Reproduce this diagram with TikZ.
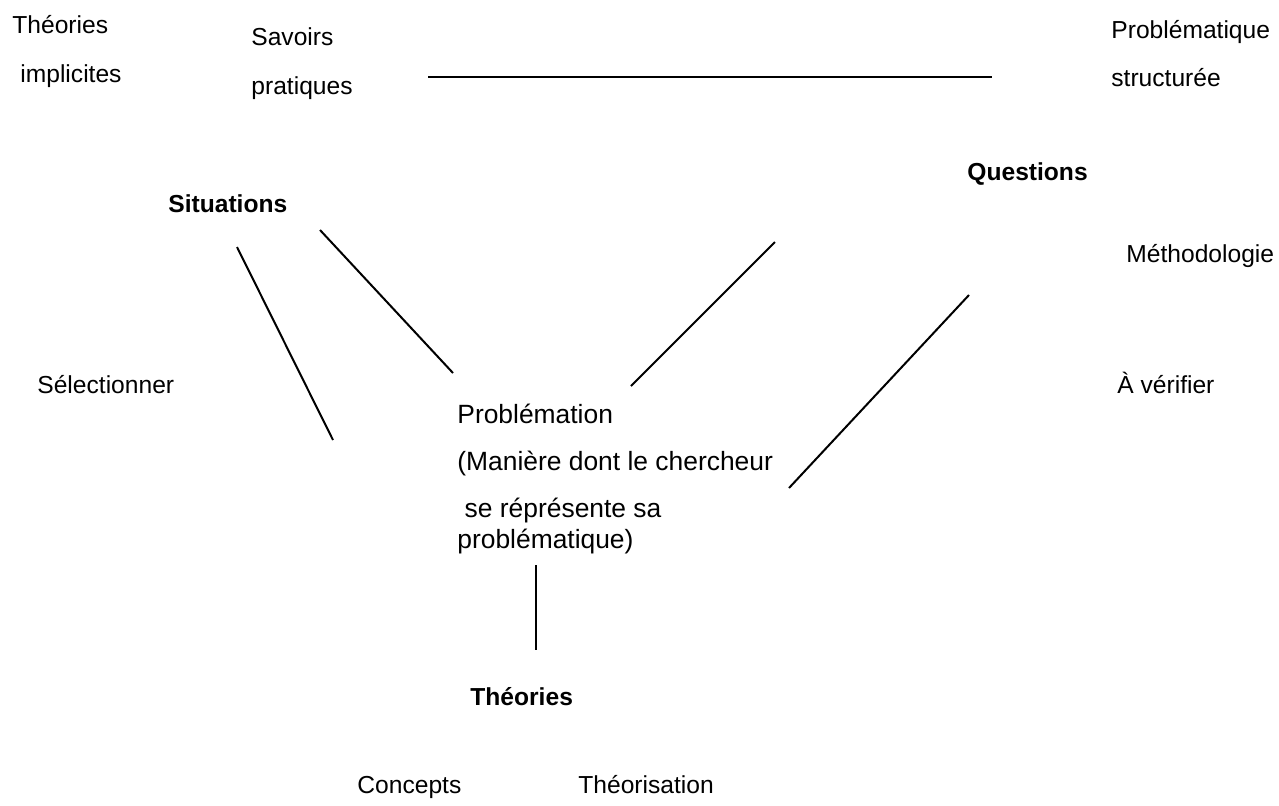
\documentclass[tikz,border=0pt]{standalone}
\usepackage{fontspec}
\setmainfont{Liberation Sans}
\begin{document}
\begin{tikzpicture}[x=0.5pt,y=-0.5pt,
  lbl/.style={anchor=base west,inner sep=0pt,font=\fontsize{12.3pt}{14pt}\selectfont},
  core/.style={anchor=base west,inner sep=0pt,font=\fontsize{13.2pt}{15pt}\selectfont},
  head/.style={anchor=base west,inner sep=0pt,font=\fontsize{12.3pt}{14pt}\selectfont\bfseries},
  link/.style={draw=black,line width=1pt}]
\useasboundingbox (0,0) rectangle (1279,805);

% upper row
\node[lbl] (ti1) at (12,33) {Théories};
\node[lbl] (ti2) at (20,82) {implicites};
\node[lbl] (sp1) at (251,45) {Savoirs};
\node[lbl] (sp2) at (251,94) {pratiques};
\node[lbl] (ps1) at (1111,38) {Problématique};
\node[lbl] (ps2) at (1111,86) {structurée};

% headings
\node[head] (sit) at (168,212) {Situations};
\node[head] (que) at (967,180) {Questions};
\node[head] (the) at (470,705) {Théories};

% side labels
\node[lbl] (sel) at (37,393) {Sélectionner};
\node[lbl] (met) at (1126,262) {Méthodologie};
\node[lbl] (ver) at (1117,393) {À vérifier};

% central block
\node[core] (pb1) at (457,423) {Problémation};
\node[core] (pb2) at (457,470) {(Manière dont le chercheur};
\node[core] (pb3) at (457,517) {\ se réprésente sa};
\node[core] (pb4) at (457,548) {problématique)};

% bottom row
\node[lbl] (con) at (357,793) {Concepts};
\node[lbl] (tsn) at (578,793) {Théorisation};

% line end points
\coordinate (h1) at (428,77);
\coordinate (h2) at (992,77);
\coordinate (a1) at (237,247);
\coordinate (a2) at (333,440);
\coordinate (b1) at (320,230);
\coordinate (b2) at (453,373);
\coordinate (c1) at (775,242);
\coordinate (c2) at (631,386);
\coordinate (d1) at (969,295);
\coordinate (d2) at (789,488);
\coordinate (e1) at (536,565);
\coordinate (e2) at (536,650);

\draw[link] (h1) -- (h2);
\draw[link] (a1) -- (a2);
\draw[link] (b1) -- (b2);
\draw[link] (c1) -- (c2);
\draw[link] (d1) -- (d2);
\draw[link] (e1) -- (e2);
\end{tikzpicture}
\end{document}
